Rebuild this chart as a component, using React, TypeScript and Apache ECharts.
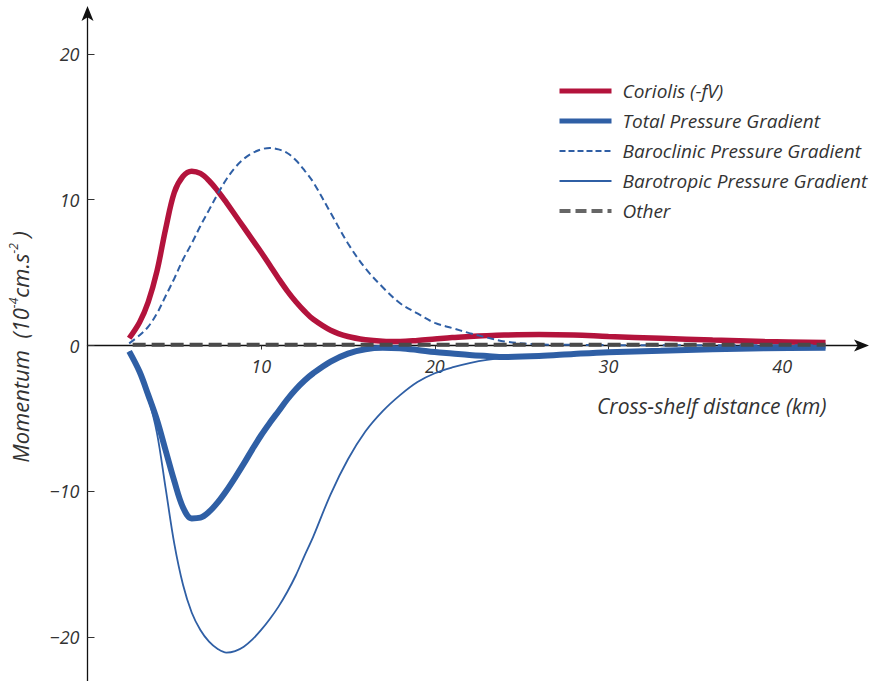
import React, { useEffect, useRef } from "react";
import * as echarts from "echarts";

const distanceKm = [2.4, 3, 3.5, 4, 4.5, 5, 5.5, 6, 6.5, 7, 7.5, 8, 8.5, 9, 9.5, 10, 10.5, 11, 11.5, 12, 12.5, 13, 14, 15, 16, 17, 18, 19, 20, 21, 22, 23, 24, 26, 28, 30, 33, 36, 39, 42.5];

const coriolis = [0.5, 1.6, 3.0, 5.1, 8.0, 10.5, 11.6, 11.95, 11.8, 11.3, 10.6, 9.8, 8.95, 8.1, 7.25, 6.4, 5.5, 4.6, 3.75, 3.0, 2.35, 1.8, 1.05, 0.62, 0.4, 0.3, 0.28, 0.35, 0.45, 0.55, 0.62, 0.68, 0.72, 0.75, 0.72, 0.62, 0.5, 0.38, 0.28, 0.2];

const totalPressure = [-0.4, -1.8, -3.4, -5.1, -7.2, -9.3, -11.1, -11.85, -11.8, -11.4, -10.75, -9.95, -9.05, -8.1, -7.1, -6.15, -5.3, -4.5, -3.7, -3.0, -2.4, -1.9, -1.1, -0.55, -0.25, -0.15, -0.18, -0.3, -0.45, -0.55, -0.65, -0.72, -0.78, -0.72, -0.58, -0.46, -0.36, -0.26, -0.19, -0.15];

const baroclinic = [0.15, 0.7, 1.3, 2.2, 3.4, 4.6, 5.9, 7.0, 8.2, 9.3, 10.4, 11.4, 12.2, 12.8, 13.2, 13.45, 13.55, 13.45, 13.2, 12.7, 12.0, 11.2, 9.1, 7.0, 5.3, 4.0, 2.9, 2.2, 1.55, 1.2, 0.85, 0.55, 0.28, 0.08, 0.05, 0.03, 0.02, 0.02, 0.02, 0.02];

const barotropic = [-0.4, -1.9, -3.6, -6.0, -9.8, -13.6, -16.4, -18.3, -19.5, -20.3, -20.8, -21.05, -20.95, -20.65, -20.15, -19.5, -18.75, -17.9, -16.9, -15.75, -14.4, -13.1, -10.2, -7.8, -5.9, -4.5, -3.4, -2.5, -1.9, -1.5, -1.2, -0.98, -0.86, -0.72, -0.58, -0.46, -0.36, -0.26, -0.19, -0.15];

const otherKm = [2.6, 42.5];
const other = [0.05, 0.05];

const xTicks = [10, 20, 30, 40];
const yTicks = [-20, -10, 0, 10, 20];

const seriesNames = [
  "Coriolis (-fV)",
  "Total Pressure Gradient",
  "Baroclinic Pressure Gradient",
  "Barotropic Pressure Gradient",
  "Other",
];

const RED = "#B3133C";
const BLUE = "#2F5FA5";
const GRAY = "#4A4A4A";
const FONT = "Open Sans";
const TEXT = "#333";

const Y_MIN = -23;
const Y_MAX = 22.8;
const GRID_TOP = 13;
const GRID_BOTTOM = 0;
const CHART_H = 681;

const pair = (xs: number[], ys: number[]) => xs.map((x, i) => [x, ys[i]]);

export default function App() {
  const ref = useRef<HTMLDivElement>(null);
  useEffect(() => {
    if (!ref.current) return;
    const chart = echarts.init(ref.current, null, { renderer: "svg" });
    const gridH = CHART_H - GRID_TOP - GRID_BOTTOM;
    const zeroFromBottom = (gridH * (0 - Y_MIN)) / (Y_MAX - Y_MIN);
    const axisLabelStyle = {
      fontFamily: FONT,
      fontStyle: "italic" as const,
      fontSize: 18,
      color: TEXT,
    };
    const hidden = { opacity: 0 };
    chart.setOption({
      animation: false,
      backgroundColor: "#fff",
      grid: { left: 87.5, right: 7, top: GRID_TOP, bottom: GRID_BOTTOM, containLabel: false, outerBoundsMode: "none" },
      legend: {
        orient: "vertical",
        left: 557,
        top: 81.5,
        padding: 0,
        itemWidth: 52,
        itemHeight: 16,
        itemGap: 11,
        textStyle: {
          fontFamily: FONT,
          fontStyle: "italic",
          fontSize: 19,
          color: TEXT,
          lineHeight: 16,
          padding: [0, 0, 0, 6],
        },
        data: [
          { name: seriesNames[0], itemStyle: hidden, lineStyle: { width: 5, color: RED } },
          { name: seriesNames[1], itemStyle: hidden, lineStyle: { width: 5, color: BLUE } },
          { name: seriesNames[2], itemStyle: hidden, lineStyle: { width: 2, color: BLUE, type: [6, 3] } },
          { name: seriesNames[3], itemStyle: hidden, lineStyle: { width: 1.8, color: BLUE } },
          { name: seriesNames[4], itemStyle: hidden, lineStyle: { width: 4, color: "#666", type: [11, 5] } },
        ],
      },
      xAxis: {
        type: "value",
        min: 0,
        max: 44.6,
        position: "bottom",
        offset: -zeroFromBottom,
        axisLine: {
          onZero: false,
          lineStyle: { color: "#111", width: 1.3 },
          symbol: ["none", "arrow"],
          symbolSize: [9, 15],
          symbolOffset: [0, 7],
        },
        axisTick: { show: true, length: 4, customValues: xTicks, lineStyle: { color: "#333" } },
        axisLabel: { ...axisLabelStyle, margin: 11, customValues: xTicks },
        splitLine: { show: false },
      },
      yAxis: {
        type: "value",
        min: Y_MIN,
        max: Y_MAX,
        axisLine: {
          show: true,
          onZero: false,
          lineStyle: { color: "#111", width: 1.3 },
          symbol: ["none", "arrow"],
          symbolSize: [9, 15],
          symbolOffset: [0, 7],
        },
        axisTick: { show: true, inside: true, length: 7, customValues: yTicks, lineStyle: { color: "#333" } },
        axisLabel: {
          ...axisLabelStyle,
          margin: 8,
          customValues: yTicks,
          formatter: (v: number) => (v < 0 ? "\u2212" + Math.abs(v) : String(v)),
        },
        splitLine: { show: false },
        name: "{a|Momentum  (10}{s|-4}{a|cm.s}{s|-2}{a| )}",
        nameLocation: "middle",
        nameGap: 56,
        nameRotate: 90,
        nameTextStyle: {
          rich: {
            a: { fontFamily: FONT, fontStyle: "italic", fontSize: 22, color: TEXT, lineHeight: 24 },
            s: { fontFamily: FONT, fontStyle: "italic", fontSize: 12, color: TEXT, verticalAlign: "top", lineHeight: 24 },
          },
        },
      },
      graphic: [
        {
          type: "text",
          left: 597,
          top: 395,
          style: {
            text: "Cross-shelf distance (km)",
            fontFamily: FONT,
            fontStyle: "italic",
            fontSize: 21,
            fill: TEXT,
          },
        },
      ],
      series: [
        {
          name: seriesNames[0],
          type: "line",
          data: pair(distanceKm, coriolis),
          smooth: 0.35,
          symbol: "none",
          lineStyle: { color: RED, width: 5.5 },
          itemStyle: { color: RED },
          z: 3,
        },
        {
          name: seriesNames[1],
          type: "line",
          data: pair(distanceKm, totalPressure),
          smooth: 0.35,
          symbol: "none",
          lineStyle: { color: BLUE, width: 6 },
          itemStyle: { color: BLUE },
          z: 3,
        },
        {
          name: seriesNames[2],
          type: "line",
          data: pair(distanceKm, baroclinic),
          smooth: 0.35,
          symbol: "none",
          lineStyle: { color: BLUE, width: 2, type: [7, 4] },
          itemStyle: { color: BLUE },
          z: 3,
        },
        {
          name: seriesNames[3],
          type: "line",
          data: pair(distanceKm, barotropic),
          smooth: 0.35,
          symbol: "none",
          lineStyle: { color: BLUE, width: 1.8 },
          itemStyle: { color: BLUE },
          z: 3,
        },
        {
          name: seriesNames[4],
          type: "line",
          data: pair(otherKm, other),
          symbol: "none",
          lineStyle: { color: GRAY, width: 4, type: [13, 6] },
          itemStyle: { color: GRAY },
          z: 4,
        },
      ],
    });
    return () => chart.dispose();
  }, []);
  return <div ref={ref} style={{ width: 869, height: 681, position: "absolute", left: 0, top: 0 }} />;
}
